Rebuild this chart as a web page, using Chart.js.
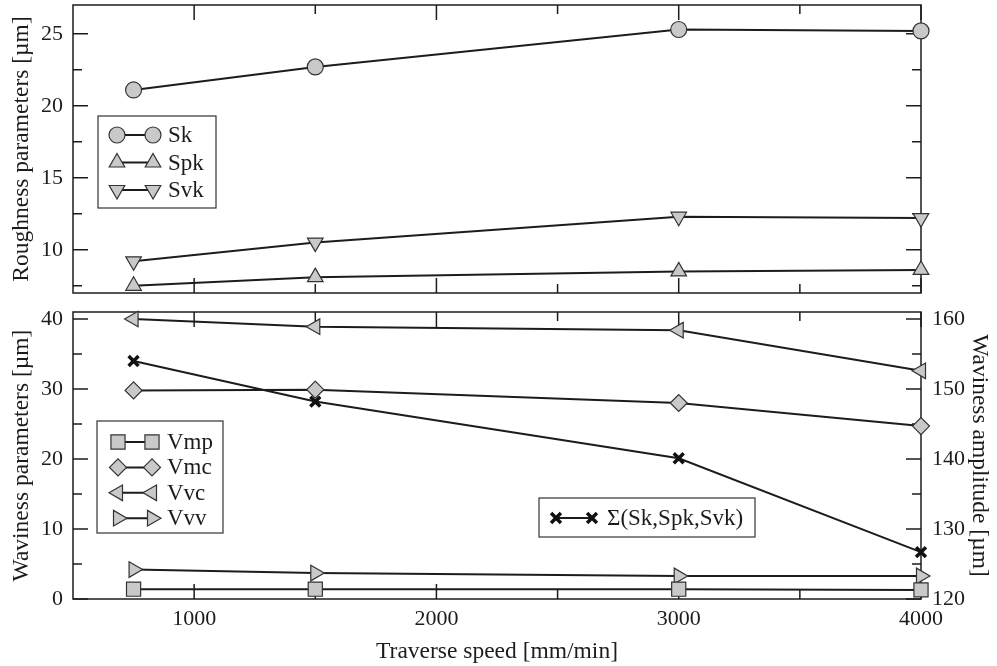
<!DOCTYPE html>
<html lang="en">
<head>
<meta charset="utf-8" />
<title>Roughness and waviness vs traverse speed</title>
<script src="https://cdn.jsdelivr.net/npm/chart.js@4.4.0/dist/chart.umd.min.js"></script>
<style>
    body { margin: 0; background: #fff; }
    #wrap { position: relative; width: 997px; height: 666px; }
    canvas { position: absolute; left: 0; }
</style>
</head>
<body>
<div id="wrap">
    <canvas id="roughChart" width="997" height="300" style="top:0"></canvas>
    <canvas id="wavyChart" width="997" height="366" style="top:300px"></canvas>
</div>
<script>
    // traverse speed [mm/min]
    var speeds = [750, 1500, 3000, 4000];

    // roughness parameters [µm]
    var sk = [21.1, 22.7, 25.3, 25.2];
    var spk = [7.5, 8.1, 8.5, 8.6];
    var svk = [9.2, 10.5, 12.3, 12.2];

    // waviness parameters [µm]
    var vmp = [1.4, 1.4, 1.4, 1.3];
    var vmc = [29.8, 29.9, 28.0, 24.7];
    var vvc = [40.0, 38.9, 38.4, 32.6];
    var vvv = [4.2, 3.7, 3.3, 3.3];

    // waviness amplitude, right axis [µm]
    var sumRough = [154.0, 148.2, 140.1, 126.7];

    // ticks
    var xTicks = [1000, 2000, 3000, 4000];
    var xMinorTicks = [1500, 2500, 3500];
    var roughTicks = [10, 15, 20, 25];
    var roughMinorTicks = [7.5, 12.5, 17.5, 22.5];
    var wavyTicks = [0, 10, 20, 30, 40];
    var wavyMinorTicks = [5, 15, 25, 35];
    var amplTicks = [120, 130, 140, 150, 160];
    var amplMinorTicks = [125, 135, 145, 155];

    var ink = '#1c1c1c';
    var markerFill = '#c9c9c9';
    var serif = "'Liberation Serif', 'DejaVu Serif', serif";

    Chart.defaults.font.family = serif;
    Chart.defaults.font.size = 22;
    Chart.defaults.color = ink;

    function series(label, values, style, radius, rotation, axis) {
        return {
            label: label,
            data: values.map(function (v, i) { return { x: speeds[i], y: v }; }),
            yAxisID: axis || 'y',
            borderColor: ink,
            borderWidth: 2,
            backgroundColor: markerFill,
            pointStyle: style,
            pointRadius: radius,
            pointRotation: rotation || 0,
            pointBorderColor: '#333',
            pointBorderWidth: 1.2,
            pointBackgroundColor: markerFill,
            tension: 0,
            clip: false
        };
    }

    // fixed axis sizes, and no extra edge padding from the labels
    function fixWidth(w) {
        return function (scale) { scale.width = w; scale.paddingTop = 0; scale.paddingBottom = 0; };
    }
    function setTicks(list) {
        return function (scale) { scale.ticks = list.map(function (v) { return { value: v }; }); };
    }
    function plain(v) { return String(v); }
    var titleFont = { size: 23.5 };

    // box frame with inward ticks on all four sides
    var frameTicks = {
        id: 'frameTicks',
        beforeDatasetsDraw: function (chart, args, o) {
            var ctx = chart.ctx, a = chart.chartArea;
            var x = chart.scales.x, yl = chart.scales.y, yr = chart.scales[o.right] || yl;
            var major = 15, minor = 9;
            ctx.save();
            ctx.strokeStyle = ink;
            ctx.lineWidth = 1.5;
            ctx.strokeRect(a.left, a.top, a.right - a.left, a.bottom - a.top);
            ctx.beginPath();
            function xt(v, len) {
                var p = x.getPixelForValue(v);
                ctx.moveTo(p, a.bottom); ctx.lineTo(p, a.bottom - len);
                ctx.moveTo(p, a.top); ctx.lineTo(p, a.top + len);
            }
            function lt(v, len) {
                var p = yl.getPixelForValue(v);
                ctx.moveTo(a.left, p); ctx.lineTo(a.left + len, p);
            }
            function rt(v, len) {
                var p = yr.getPixelForValue(v);
                ctx.moveTo(a.right, p); ctx.lineTo(a.right - len, p);
            }
            xTicks.forEach(function (v) { xt(v, major); });
            xMinorTicks.forEach(function (v) { xt(v, minor); });
            o.yMajor.forEach(function (v) { lt(v, major); });
            o.yMinor.forEach(function (v) { lt(v, minor); });
            o.rMajor.forEach(function (v) { rt(v, major); });
            o.rMinor.forEach(function (v) { rt(v, minor); });
            ctx.stroke();
            ctx.restore();
        }
    };

    // framed legends with marker-line-marker samples
    var boxLegend = {
        id: 'boxLegend',
        afterDatasetsDraw: function (chart, args, o) {
            var ctx = chart.ctx, a = chart.chartArea;
            (o.boxes || []).forEach(function (b) {
                var bx = a.left + b.x, by = a.top + b.y;
                ctx.save();
                ctx.fillStyle = '#fff';
                ctx.fillRect(bx, by, b.w, b.h);
                ctx.strokeStyle = '#333';
                ctx.lineWidth = 1.2;
                ctx.strokeRect(bx, by, b.w, b.h);
                b.items.forEach(function (idx, i) {
                    var ds = chart.data.datasets[idx];
                    var cy = by + b.first + i * b.step;
                    ctx.strokeStyle = ink;
                    ctx.lineWidth = 2;
                    ctx.beginPath();
                    ctx.moveTo(bx + b.m1, cy);
                    ctx.lineTo(bx + b.m2, cy);
                    ctx.stroke();
                    var pt = {
                        pointStyle: ds.pointStyle,
                        radius: ds.pointRadius,
                        rotation: ds.pointRotation,
                        borderWidth: ds.pointBorderWidth
                    };
                    ctx.fillStyle = ds.pointBackgroundColor;
                    ctx.strokeStyle = ds.pointBorderColor;
                    ctx.lineWidth = ds.pointBorderWidth;
                    Chart.helpers.drawPoint(ctx, pt, bx + b.m1, cy);
                    Chart.helpers.drawPoint(ctx, pt, bx + b.m2, cy);
                    ctx.fillStyle = ink;
                    ctx.font = '23px ' + serif;
                    ctx.textBaseline = 'middle';
                    ctx.fillText(ds.label, bx + b.tx, cy + 1);
                });
                ctx.restore();
            });
        }
    };

    new Chart(document.getElementById('roughChart').getContext('2d'), {
        type: 'line',
        data: {
            datasets: [
                series('Sk', sk, 'circle', 8, 0),
                series('Spk', spk, 'triangle', 9, 0),
                series('Svk', svk, 'triangle', 9, 180)
            ]
        },
        options: {
            responsive: false,
            animation: false,
            events: [],
            layout: { autoPadding: false, padding: { top: 5, bottom: 7, left: 0, right: 76 } },
            scales: {
                x: { type: 'linear', min: 500, max: 4000, display: false },
                y: {
                    min: 7, max: 27,
                    grid: { display: false, drawTicks: false },
                    border: { display: false },
                    ticks: { padding: 10, callback: plain },
                    afterBuildTicks: setTicks(roughTicks),
                    afterFit: fixWidth(73),
                    title: { display: true, text: 'Roughness parameters [µm]', font: titleFont, padding: { top: 8, bottom: 0 } }
                }
            },
            plugins: {
                legend: { display: false },
                tooltip: { enabled: false },
                frameTicks: { yMajor: roughTicks, yMinor: roughMinorTicks, rMajor: roughTicks, rMinor: roughMinorTicks },
                boxLegend: {
                    boxes: [{ x: 25, y: 111, w: 118, h: 92, first: 19, step: 27.5, m1: 19, m2: 55, tx: 70, items: [0, 1, 2] }]
                }
            }
        },
        plugins: [frameTicks, boxLegend]
    });

    new Chart(document.getElementById('wavyChart').getContext('2d'), {
        type: 'line',
        data: {
            datasets: [
                series('Vmp', vmp, 'rect', 10, 0),
                series('Vmc', vmc, 'rectRot', 8.5, 0),
                series('Vvc', vvc, 'triangle', 9, 270),
                series('Vvv', vvv, 'triangle', 9, 90),
                Object.assign(series('Σ(Sk,Spk,Svk)', sumRough, 'crossRot', 7, 0, 'y2'),
                    { pointBorderColor: '#111', pointBorderWidth: 3.5 })
            ]
        },
        options: {
            responsive: false,
            animation: false,
            events: [],
            layout: { autoPadding: false, padding: { top: 12, bottom: 0, left: 0, right: 0 } },
            scales: {
                x: {
                    type: 'linear', min: 500, max: 4000,
                    grid: { display: false, drawTicks: false },
                    border: { display: false },
                    ticks: { padding: 7, maxRotation: 0, callback: plain },
                    afterBuildTicks: setTicks(xTicks),
                    afterFit: function (scale) { scale.height = 67; scale.paddingLeft = 0; scale.paddingRight = 0; },
                    title: { display: true, text: 'Traverse speed [mm/min]', font: titleFont, padding: { top: 13, bottom: 0 } }
                },
                y: {
                    min: 0, max: 41,
                    grid: { display: false, drawTicks: false },
                    border: { display: false },
                    ticks: { padding: 10, callback: plain },
                    afterBuildTicks: setTicks(wavyTicks),
                    afterFit: fixWidth(73),
                    title: { display: true, text: 'Waviness parameters [µm]', font: titleFont, padding: { top: 8, bottom: 0 } }
                },
                y2: {
                    position: 'right',
                    min: 120, max: 161,
                    grid: { display: false, drawTicks: false },
                    border: { display: false },
                    ticks: { padding: 11, callback: plain },
                    afterBuildTicks: setTicks(amplTicks),
                    afterFit: fixWidth(76),
                    title: { display: true, text: 'Waviness amplitude [µm]', font: titleFont, padding: { top: 4, bottom: 0 } }
                }
            },
            plugins: {
                legend: { display: false },
                tooltip: { enabled: false },
                frameTicks: { right: 'y2', yMajor: wavyTicks, yMinor: wavyMinorTicks, rMajor: amplTicks, rMinor: amplMinorTicks },
                boxLegend: {
                    boxes: [
                        { x: 24, y: 109, w: 126, h: 112, first: 21, step: 25.4, m1: 21, m2: 55, tx: 70, items: [0, 1, 2, 3] },
                        { x: 466, y: 186, w: 216, h: 39, first: 20, step: 0, m1: 17, m2: 53, tx: 68, items: [4] }
                    ]
                }
            }
        },
        plugins: [frameTicks, boxLegend]
    });
</script>
</body>
</html>
